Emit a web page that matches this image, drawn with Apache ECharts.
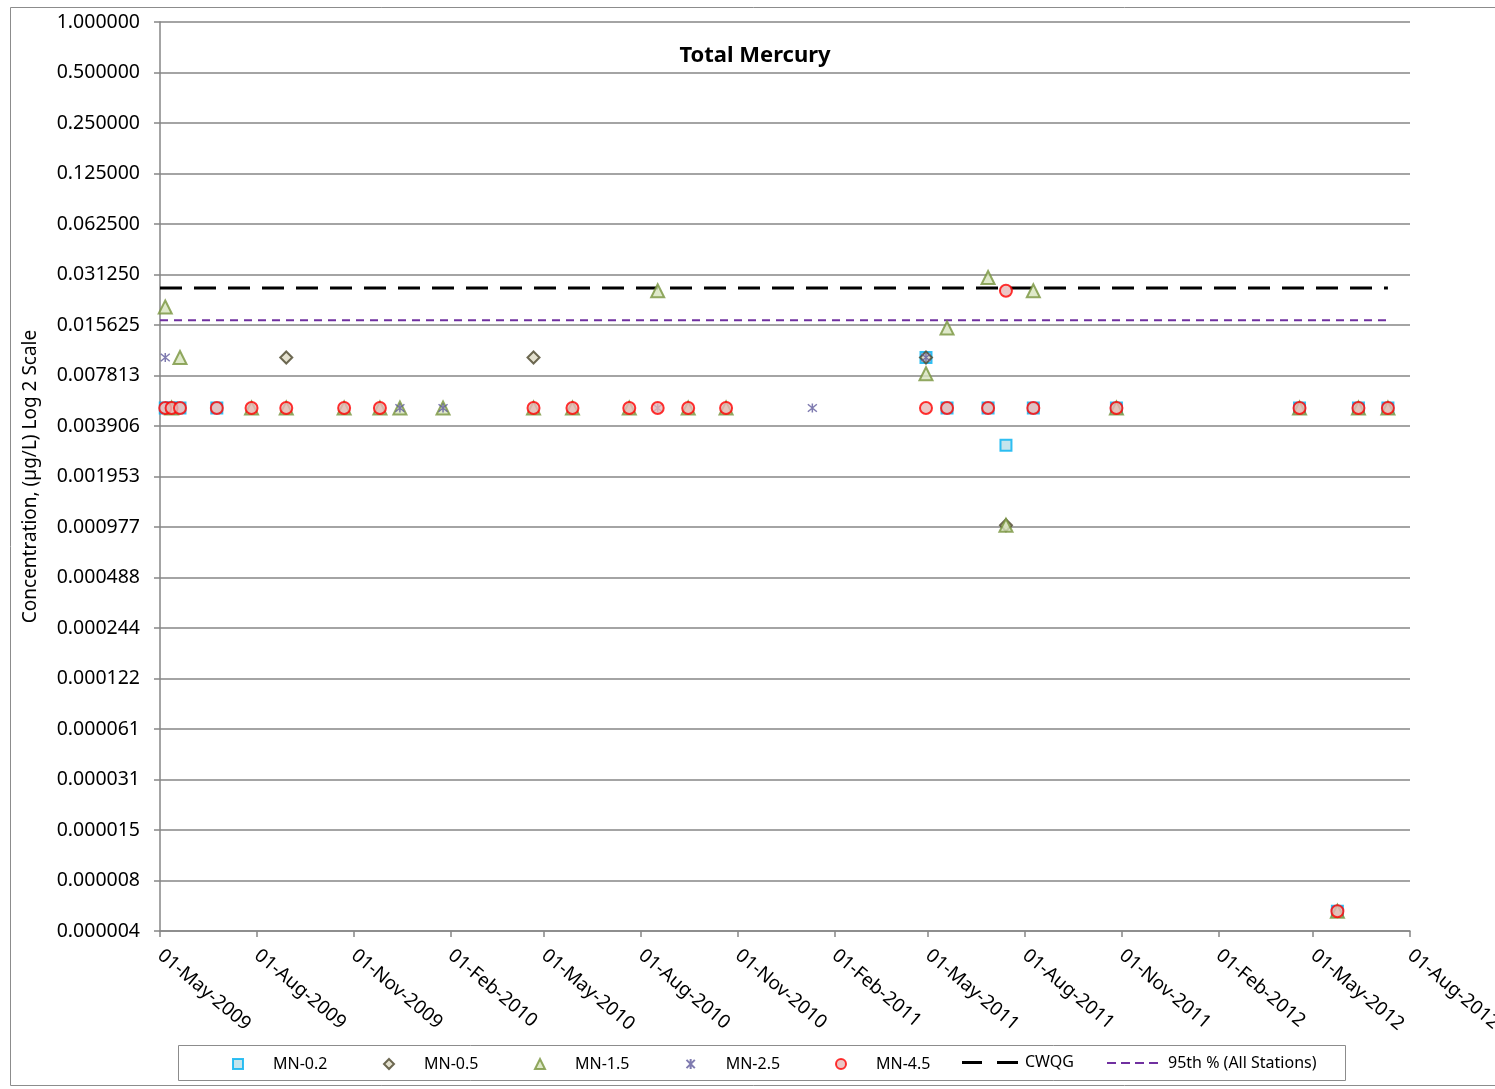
<!DOCTYPE html>
<html>
<head>
<meta charset="utf-8">
<script src="https://cdn.jsdelivr.net/npm/echarts@6/dist/echarts.min.js"></script>
<style>
  html, body { margin: 0; padding: 0; background: #fff; }
  #main-chart { width: 1495px; height: 1089px; }
</style>
</head>
<body>
<div id="main-chart"></div>
<script>
// 数据 (µg/L)
var xTicks = ['2009-05-01','2009-08-01','2009-11-01','2010-02-01','2010-05-01','2010-08-01','2010-11-01',
  '2011-02-01','2011-05-01','2011-08-01','2011-11-01','2012-02-01','2012-05-01','2012-08-01'];
var yTickCount = 19; // 2^0 .. 2^-18

var mn02Dates = ['2009-05-06','2009-05-12','2009-05-20','2009-06-24','2011-04-29','2011-05-19','2011-06-27',
  '2011-07-14','2011-08-09','2011-10-27','2012-04-18','2012-05-24','2012-06-13','2012-07-11'];
var mn02Vals  = [0.005,0.005,0.005,0.005,0.01,0.005,0.005,0.003,0.005,0.005,0.005,0.000005,0.005,0.005];

var mn05Dates = ['2009-08-29','2010-04-21','2011-04-29','2011-07-14'];
var mn05Vals  = [0.01,0.01,0.01,0.001];

var mn15Dates = ['2009-05-06','2009-05-12','2009-05-20','2009-07-27','2009-08-29','2009-10-23','2009-11-26',
  '2009-12-15','2010-01-25','2010-04-21','2010-05-28','2010-07-21','2010-08-17','2010-09-15','2010-10-21',
  '2011-04-29','2011-05-19','2011-06-27','2011-07-14','2011-08-09','2011-10-27','2012-04-18','2012-05-24',
  '2012-06-13','2012-07-11'];
var mn15Vals  = [0.02,0.005,0.01,0.005,0.005,0.005,0.005,
  0.005,0.005,0.005,0.005,0.005,0.025,0.005,0.005,
  0.008,0.015,0.03,0.001,0.025,0.005,0.005,0.000005,
  0.005,0.005];

var mn25Dates = ['2009-05-06','2009-12-15','2010-01-25','2010-08-17','2011-01-11','2011-04-29'];
var mn25Vals  = [0.01,0.005,0.005,0.005,0.005,0.01];

var mn45Dates = ['2009-05-06','2009-05-12','2009-05-20','2009-06-24','2009-07-27','2009-08-29','2009-10-23',
  '2009-11-26','2010-04-21','2010-05-28','2010-07-21','2010-08-17','2010-09-15','2010-10-21','2011-04-29',
  '2011-05-19','2011-06-27','2011-07-14','2011-08-09','2011-10-27','2012-04-18','2012-05-24','2012-06-13',
  '2012-07-11'];
var mn45Vals  = [0.005,0.005,0.005,0.005,0.005,0.005,0.005,
  0.005,0.005,0.005,0.005,0.005,0.005,0.005,0.005,
  0.005,0.005,0.025,0.005,0.005,0.005,0.000005,0.005,
  0.005];

var lineDates = ['2009-05-01','2012-07-11'];
var cwqgVal = 0.026;
var p95Val = 0.0167;

var monthNames = ['Jan','Feb','Mar','Apr','May','Jun','Jul','Aug','Sep','Oct','Nov','Dec'];
function toTime(s) {
  var p = s.split('-');
  return Date.UTC(+p[0], +p[1] - 1, +p[2]);
}
function pairs(dates, vals) {
  return dates.map(function (d, i) { return [toTime(d), vals[i]]; });
}
function fmtDate(v) {
  var d = new Date(v);
  var dd = d.getUTCDate();
  return (dd < 10 ? '0' + dd : dd) + '-' + monthNames[d.getUTCMonth()] + '-' + d.getUTCFullYear();
}

var tickTimes = xTicks.map(toTime);
var yTicks = [];
for (var i = 0; i < yTickCount; i++) yTicks.push(Math.pow(2, -i));

var font = 'Noto Sans';
var starPath = 'path://M0,0L10,10M10,0L0,10M5,-1L5,11';

// 图例：每个一项，手动定位
function scatterLegend(name, x) {
	return {
		left: x, top: 1056, padding: 0,
		itemWidth: 10, itemHeight: 10,
		textStyle: { fontFamily: font, fontSize: 16, color: '#000', padding: [0, 0, 0, 25] },
		data: [name]
	};
}
function lineLegend(name, x, w, h, icon, pad) {
	return {
		left: x, top: 1056 - h / 2, padding: 0,
		itemWidth: w, itemHeight: h,
		textStyle: { fontFamily: font, fontSize: 16, color: '#000', padding: [0, 0, 0, pad] },
		data: [{ name: name, icon: icon }]
	};
}

option = {
	backgroundColor:'#fff',
	animation: false,
	title: {
		text: 'Total Mercury',
		left: 750,
		top: 40,
		textAlign: 'center',
		textStyle: { fontFamily: font, fontSize: 22, fontWeight: 'bold', color: '#000' }
	},
	graphic: [
		{ type: 'rect', shape: { x: 10.5, y: 7.5, width: 1500, height: 1078 },
		  style: { fill: 'none', stroke: '#8c8c8c', lineWidth: 1 }, silent: true },
		{ type: 'rect', shape: { x: 178.5, y: 1045.5, width: 1167, height: 35 },
		  style: { fill: 'none', stroke: '#8c8c8c', lineWidth: 1 }, silent: true }
	],
	legend: [
		scatterLegend('MN-0.2', 232),
		scatterLegend('MN-0.5', 383),
		scatterLegend('MN-1.5', 534),
		scatterLegend('MN-2.5', 684),
		scatterLegend('MN-4.5', 835),
		lineLegend('CWQG', 962, 56, 3, 'path://M0,0h20v3h-20zM35,0h21v3h-21z', 2),
		lineLegend('95th % (All Stations)', 1107, 51, 2, 'path://M0,0h9v2h-9zM14,0h9v2h-9zM28,0h9v2h-9zM42,0h9v2h-9z', 5)
	],
	grid: {
		left: 160,
		right: 85,
		top: 22,
		bottom: 158,
		outerBoundsMode: 'none'
	},
	xAxis : [
		{
			type : 'value',
			min: tickTimes[0],
			max: tickTimes[tickTimes.length - 1],
			axisLine:{ show:true, lineStyle: { color: '#868686', width: 1.5 } },
			axisTick:{ show:true, length: 6, customValues: tickTimes, lineStyle: { color: '#868686', width: 1.5 } },
			splitLine: { show: false },
			axisLabel: {
				customValues: tickTimes,
				rotate: -40,
				margin: 22,
				fontFamily: font,
				fontSize: 19,
				color: '#000',
				formatter: function (v) { return fmtDate(v); }
			}
		}
	],
	yAxis : [
		{
			type : 'log',
			logBase: 2,
			min: yTicks[yTicks.length - 1],
			max: yTicks[0],
			interval: 1,
			splitNumber: yTickCount - 1,
			name: 'Concentration, (µg/L) Log 2 Scale',
			nameLocation: 'middle',
			nameGap: 120,
			nameTextStyle: { fontFamily: font, fontSize: 19, color: '#000' },
			axisLine:{ show:true, lineStyle: { color: '#868686', width: 1.5 } },
			axisTick:{ show:true, length: 6, lineStyle: { color: '#868686', width: 1.5 } },
			splitLine: { show: true, lineStyle: { color: '#868686', width: 1.5 } },
			axisLabel: {
				fontFamily: font,
				fontSize: 19.5,
				color: '#000',
				margin: 20,
				formatter: function (v) { return v.toFixed(6); }
			}
		}
	],
	series : [
		{
			name: 'MN-0.2', type: 'scatter', symbol: 'rect', symbolSize: 11, z: 3,
			itemStyle: { color: '#b7dee8', borderColor: '#00b0f0', borderWidth: 2 },
			data: pairs(mn02Dates, mn02Vals)
		},
		{
			name: 'MN-0.5', type: 'scatter', symbol: 'diamond', symbolSize: 12, z: 4,
			itemStyle: { color: '#ddd9c3', borderColor: '#4a452a', borderWidth: 2 },
			data: pairs(mn05Dates, mn05Vals)
		},
		{
			name: 'MN-1.5', type: 'scatter', symbol: 'triangle', symbolSize: 13, z: 5,
			itemStyle: { color: '#d7e4bd', borderColor: '#77933c', borderWidth: 2 },
			data: pairs(mn15Dates, mn15Vals)
		},
		{
			name: 'MN-2.5', type: 'scatter', symbol: starPath, symbolSize: 9, z: 6,
			itemStyle: { color: 'none', borderColor: '#5f5a9c', borderWidth: 1.5 },
			data: pairs(mn25Dates, mn25Vals)
		},
		{
			name: 'MN-4.5', type: 'scatter', symbol: 'circle', symbolSize: 12, z: 7,
			itemStyle: { color: '#e6b9b8', borderColor: '#ff0000', borderWidth: 2 },
			data: pairs(mn45Dates, mn45Vals)
		},
		{
			name: 'CWQG', type: 'line', symbol: 'none', z: 2,
			lineStyle: { color: '#000', width: 3, type: [22, 12] },
			itemStyle: { color: '#000' },
			data: pairs(lineDates, [cwqgVal, cwqgVal])
		},
		{
			name: '95th % (All Stations)', type: 'line', symbol: 'none', z: 2,
			lineStyle: { color: '#7030a0', width: 2, type: [8, 6] },
			itemStyle: { color: '#7030a0' },
			data: pairs(lineDates, [p95Val, p95Val])
		}
	]
};

/*基于准备好的dom，初始化echarts实例*/
var myChart = echarts.init(document.getElementById('main-chart'));
myChart.setOption(option);
</script>
</body>
</html>
